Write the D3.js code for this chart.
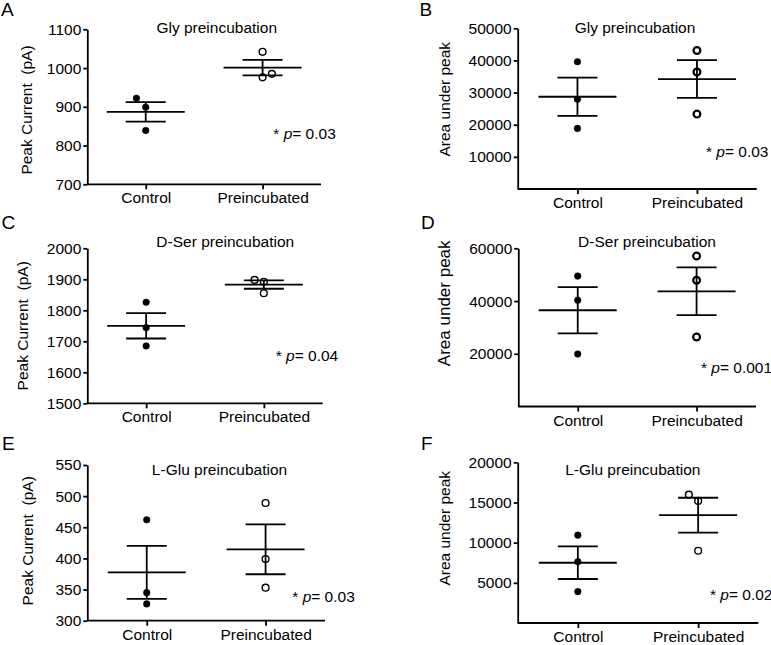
<!DOCTYPE html>
<html>
<head>
<meta charset="utf-8">
<script src="https://cdn.jsdelivr.net/npm/d3@7"></script>
<style>
  html, body { margin: 0; padding: 0; background: #fff; }
  svg { display: block; }
  text { font-family: "Liberation Sans", Arial, Helvetica, sans-serif; fill: #000; }
</style>
</head>
<body>
<svg id="chart" width="771" height="645"></svg>
<script>
// ---------------- DATA ----------------
const categories = ["Control", "Preincubated"];
const panelLetters = ["A", "B", "C", "D", "E", "F"];
const panelTitles = ["Gly preincubation", "Gly preincubation", "D-Ser preincubation",
                     "D-Ser preincubation", "L-Glu preincubation", "L-Glu preincubation"];
const yLabels = ["Peak Current  (pA)", "Area under peak", "Peak Current  (pA)",
                 "Area under peak", "Peak Current  (pA)", "Area under peak"];
const pValues = ["0.03", "0.03", "0.04", "0.001", "0.03", "0.02"];
const yDomains = [[700, 1100], [0, 50000], [1500, 2000], [0, 60000], [300, 550], [0, 20000]];
const yTicks = [
  [700, 800, 900, 1000, 1100],
  [10000, 20000, 30000, 40000, 50000],
  [1500, 1600, 1700, 1800, 1900, 2000],
  [20000, 40000, 60000],
  [300, 350, 400, 450, 500, 550],
  [5000, 10000, 15000, 20000]
];
const controlValues = [
  [922, 899, 839],
  [39600, 27900, 18850],
  [1826, 1744, 1685],
  [49450, 40300, 19900],
  [462, 345, 327],
  [10935, 7625, 3900]
];
const preValues = [
  [1042, 976, 985],
  [43100, 36400, 23300],
  [1898, 1892, 1855],
  [57070, 47900, 26360],
  [489, 399, 353],
  [15980, 15190, 8990]
];
const controlMean = [887, 28700, 1750, 36500, 377.6, 7500];
const controlSem  = [25, 5950, 41, 8750, 42.5, 2025];
const preMean     = [1001, 34200, 1883, 43700, 414.6, 13415];
const preSem      = [20, 5870, 13.5, 9070, 40, 2170];
// horizontal nudge of overlapping dots (in dot-spacing units)
const controlJitter = [[-1, 0, 0], [0, 0, 0], [0, 0, 0], [0, 0, 0], [0, 0, 0], [0, 0, 0]];
const preJitter     = [[0, 0, 1], [0, 0, 0], [-1, 0, 0], [0, 0, 0], [0, 0, 0], [-1, 0, 0]];

// ---------------- LAYOUT ----------------
const layout = [
  {x0: 87.3,  x1: 321,   yTop: 29.3,  yBot: 184.3, title: [216.7, 33.3], p: [273.3, 139.3], letter: [1, 15.5],    ylab: [31.7, 110],   ylabSize: 15.5, openStroke: 1.4},
  {x0: 517.7, x1: 756.7, yTop: 28.3,  yBot: 189,   title: [635, 33.3],   p: [706, 156.7],   letter: [419.5, 15.5], ylab: [450, 99.2],   ylabSize: 15.5, openStroke: 2.2},
  {x0: 87.3,  x1: 322.7, yTop: 248.3, yBot: 403.3, title: [225.3, 246.7], p: [275.7, 361],  letter: [1.5, 228.5], ylab: [28.4, 325.8], ylabSize: 15.5, openStroke: 1.4},
  {x0: 518.3, x1: 756,   yTop: 248.3, yBot: 406.5, title: [647, 246.7],  p: [701, 373.3],   letter: [421, 228.5], ylab: [450, 303.3],  ylabSize: 17,   openStroke: 2.2},
  {x0: 87.3,  x1: 325,   yTop: 465,   yBot: 620.7, title: [219.5, 475],  p: [292.3, 602.3], letter: [2, 449.5],   ylab: [33.4, 540.8], ylabSize: 15.5, openStroke: 1.4},
  {x0: 517.7, x1: 758.3, yTop: 462.3, yBot: 623,   title: [632.8, 475],  p: [710, 600],     letter: [421, 450],   ylab: [450, 528.3],  ylabSize: 15.5, openStroke: 1.4}
];

const FONT = 15.5;
const LW = 1.8;
const meanHalf = 39, capHalf = 20, dotStep = 9.3;

const svg = d3.select("#chart");

panelLetters.forEach((letter, i) => {
  const L = layout[i];
  const g = svg.append("g");
  const x = d3.scalePoint().domain(categories).range([L.x0, L.x1]).padding(0.5);
  const y = d3.scaleLinear().domain(yDomains[i]).range([L.yBot, L.yTop]);

  // y axis
  const yAx = g.append("g").attr("transform", `translate(${L.x0},0)`)
    .call(d3.axisLeft(y).tickValues(yTicks[i]).tickFormat(d3.format("d"))
      .tickSize(4).tickSizeOuter(0).tickPadding(2));
  yAx.selectAll("path, line").attr("stroke", "#000").attr("stroke-width", LW);
  yAx.selectAll("text").style("font-size", FONT + "px").attr("fill", "#000");

  // x axis
  const xAx = g.append("g").attr("transform", `translate(0,${L.yBot})`)
    .call(d3.axisBottom(x).tickSize(5).tickSizeOuter(0).tickPadding(3));
  xAx.select("path").attr("d", `M${L.x0},0H${L.x1}`);
  xAx.selectAll("path, line").attr("stroke", "#000").attr("stroke-width", LW);
  xAx.selectAll("text").style("font-size", FONT + "px").attr("fill", "#000");

  // dots
  const dots = [];
  controlValues[i].forEach((v, k) => dots.push({cat: "Control", v, j: controlJitter[i][k], open: false}));
  preValues[i].forEach((v, k) => dots.push({cat: "Preincubated", v, j: preJitter[i][k], open: true}));
  g.selectAll("circle.dot").data(dots).enter().append("circle")
    .attr("class", "dot")
    .attr("cx", d => x(d.cat) + d.j * dotStep)
    .attr("cy", d => y(d.v))
    .attr("r", d => d.open ? 3.4 : 3.3)
    .attr("fill", d => d.open ? "#fff" : "#000")
    .attr("stroke", "#000")
    .attr("stroke-width", d => d.open ? L.openStroke : 0.5);

  // mean +/- SEM
  const stats = [
    {cat: "Control", m: controlMean[i], s: controlSem[i]},
    {cat: "Preincubated", m: preMean[i], s: preSem[i]}
  ];
  stats.forEach(st => {
    const cx = x(st.cat);
    const lines = [
      [cx - meanHalf, y(st.m), cx + meanHalf, y(st.m)],
      [cx - capHalf, y(st.m + st.s), cx + capHalf, y(st.m + st.s)],
      [cx - capHalf, y(st.m - st.s), cx + capHalf, y(st.m - st.s)],
      [cx, y(st.m + st.s), cx, y(st.m - st.s)]
    ];
    g.selectAll(null).data(lines).enter().append("line")
      .attr("x1", d => d[0]).attr("y1", d => d[1])
      .attr("x2", d => d[2]).attr("y2", d => d[3])
      .attr("stroke", "#000").attr("stroke-width", LW);
  });

  // title
  g.append("text").attr("x", L.title[0]).attr("y", L.title[1])
    .attr("text-anchor", "middle").style("font-size", FONT + "px").text(panelTitles[i]);

  // y label
  g.append("text")
    .attr("transform", `translate(${L.ylab[0]},${L.ylab[1]}) rotate(-90)`)
    .attr("text-anchor", "middle")
    .style("font-size", L.ylabSize + "px")
    .style("white-space", "pre")
    .text(yLabels[i]);

  // p value
  const pt = g.append("text").attr("x", L.p[0]).attr("y", L.p[1]).style("font-size", FONT + "px")
    .style("white-space", "pre");
  pt.append("tspan").text("* ");
  pt.append("tspan").style("font-style", "italic").text("p");
  pt.append("tspan").text("= " + pValues[i]);

  // panel letter
  g.append("text").attr("x", L.letter[0]).attr("y", L.letter[1])
    .style("font-size", "19px").text(letter);
});
</script>
</body>
</html>
